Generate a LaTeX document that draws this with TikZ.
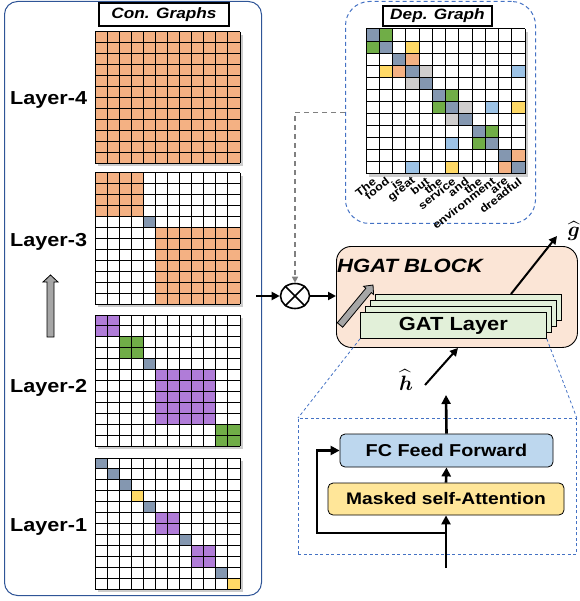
\documentclass[tikz,border=0pt]{standalone}
\usepackage{amsmath}
\usepackage{fontspec}
\setmainfont{Liberation Sans}[FakeStretch=1.15]
\usetikzlibrary{calc,shadows,arrows.meta,shapes.geometric}
\definecolor{cOrange}{HTML}{F4B183}
\definecolor{cSlate}{HTML}{8497B0}
\definecolor{cPurple}{HTML}{B07CD8}
\definecolor{cGreen}{HTML}{70AD47}
\definecolor{cYellow}{HTML}{FFD966}
\definecolor{cLBlue}{HTML}{9DC3E6}
\definecolor{cLGray}{HTML}{D0CECE}
\definecolor{cPeach}{HTML}{FBE5D6}
\definecolor{cMint}{HTML}{E2F0D9}
\definecolor{cFC}{HTML}{BDD7EE}
\definecolor{cMask}{HTML}{FFE699}
\definecolor{cPanel}{HTML}{2F5597}
\definecolor{cDash}{HTML}{4472C4}
\newcommand\cellgrid[4]{%
  \begin{scope}[shift={(#1.north west)}, x=#2pt, y=-#3pt]
    #4
    \foreach \i in {0,...,12}{\draw[cellline] (\i,0) -- (\i,12); \draw[cellline] (0,\i) -- (12,\i);}
  \end{scope}}
\newcommand\cellat[3]{\fill[#1] (#3,#2) rectangle ++(1,1);}
\begin{document}
\begin{tikzpicture}[x=1pt,y=-1pt,
  panel/.style={draw=cPanel, line width=1pt, rounded corners=13pt, inner sep=0, anchor=north west},
  dpanel/.style={draw=cDash, dash pattern=on 4pt off 3pt, line width=1pt, rounded corners=24pt, inner sep=0, anchor=north west},
  titlebox/.style={draw=black, fill=white, line width=1.1pt, inner sep=0, font=\bfseries\itshape\fontsize{15}{17}\selectfont},
  layerlbl/.style={font=\bfseries\fontsize{18.8}{20}\selectfont, anchor=west, inner sep=0},
  gridframe/.style={fill=white, drop shadow={shadow xshift=2.5pt, shadow yshift=-2.5pt, opacity=0.4}, inner sep=0, anchor=north west},
  cellline/.style={draw=black, line width=1pt},
  word/.style={font=\bfseries\fontsize{11}{12}\selectfont, inner sep=0, anchor=east, rotate=38},
  arr/.style={line width=2pt, -{Triangle[length=8pt,width=8pt]}},
  thickarr/.style={line width=2.6pt, -{Triangle[length=9pt,width=9pt]}},
  grayarrow/.style={fill=black!35, draw=black, line width=0.8pt},
  gat/.style={draw=black, fill=cMint, line width=0.8pt, minimum width=186pt, minimum height=26pt, inner sep=0, anchor=north west},
  blk/.style={draw=black, rounded corners=5pt, line width=0.8pt, inner sep=0},
  bluedash/.style={draw=cDash, dash pattern=on 3pt off 2.5pt, line width=0.8pt},
  hatlbl/.style={inner sep=0, font=\mathversion{bold}\fontsize{20}{22}\selectfont}
]
\useasboundingbox (0,0) rectangle (579,601);

% ---------- left panel ----------
\node[panel, minimum width=257pt, minimum height=594pt] (conpanel) at (4,1) {};
\node[titlebox, minimum width=130pt, minimum height=23pt] (contitle) at (164,14.5) {Con. Graphs};

\node[gridframe, fill=cOrange, minimum width=145pt, minimum height=131pt] (L4) at (95,32) {};
\cellgrid{L4}{12.083}{10.917}{}
\node[gridframe, minimum width=145pt, minimum height=131pt] (L3) at (95,173) {};
\cellgrid{L3}{12.083}{10.917}{%
  \fill[cOrange] (0,0) rectangle (4,4);
  \fill[cSlate] (4,4) rectangle (5,5);
  \fill[cOrange] (5,5) rectangle (12,12);}
\node[gridframe, minimum width=145pt, minimum height=131pt] (L2) at (95,315) {};
\cellgrid{L2}{12.083}{10.917}{%
  \fill[cPurple] (0,0) rectangle (2,2);
  \fill[cGreen] (2,2) rectangle (4,4);
  \fill[cSlate] (4,4) rectangle (5,5);
  \fill[cPurple] (5,5) rectangle (10,10);
  \fill[cGreen] (10,10) rectangle (12,12);}
\node[gridframe, minimum width=145pt, minimum height=131pt] (L1) at (95,458) {};
\cellgrid{L1}{12.083}{10.917}{%
  \fill[cSlate] (0,0) rectangle (1,1);
  \fill[cSlate] (1,1) rectangle (2,2);
  \fill[cSlate] (2,2) rectangle (3,3);
  \fill[cYellow] (3,3) rectangle (4,4);
  \fill[cSlate] (4,4) rectangle (5,5);
  \fill[cPurple] (5,5) rectangle (7,7);
  \fill[cSlate] (7,7) rectangle (8,8);
  \fill[cPurple] (8,8) rectangle (10,10);
  \fill[cSlate] (10,10) rectangle (11,11);
  \fill[cYellow] (11,11) rectangle (12,12);}

\node[layerlbl] (t4) at (10,100) {Layer-4};
\node[layerlbl] (t3) at (10,242) {Layer-3};
\node[layerlbl] (t2) at (10,388) {Layer-2};
\node[layerlbl] (t1) at (10,527) {Layer-1};

\draw[grayarrow] (47,337) -- (47,282) -- (43,282) -- (50.5,275) -- (58,282) -- (54,282) -- (54,337) -- cycle;

% ---------- dependency graph ----------
\node[dpanel, minimum width=190pt, minimum height=222pt] (deppanel) at (345,1) {};
\node[titlebox, minimum width=109pt, minimum height=20pt] (deptitle) at (437.5,16) {Dep. Graph};
\node[gridframe, minimum width=159pt, minimum height=145pt] (DG) at (366,29) {};
\cellgrid{DG}{13.25}{12.083}{%
  \foreach \k in {0,...,11}{\cellat{cSlate}{\k}{\k}}
  \cellat{cGreen}{0}{1}\cellat{cGreen}{1}{0}\cellat{cGreen}{5}{6}\cellat{cGreen}{6}{5}\cellat{cGreen}{8}{9}\cellat{cGreen}{9}{8}
  \cellat{cYellow}{1}{3}\cellat{cYellow}{3}{1}\cellat{cYellow}{6}{11}\cellat{cYellow}{11}{6}
  \cellat{cOrange}{2}{3}\cellat{cOrange}{3}{2}\cellat{cOrange}{10}{11}\cellat{cOrange}{11}{10}
  \cellat{cLGray}{3}{4}\cellat{cLGray}{4}{3}\cellat{cLGray}{6}{7}\cellat{cLGray}{7}{6}
  \cellat{cLBlue}{3}{11}\cellat{cLBlue}{11}{3}\cellat{cLBlue}{6}{9}\cellat{cLBlue}{9}{6}}
\foreach \w [count=\n from 0] in {The,food,is,great,but,the,service,and,the,environment,are,dreadful}{
  \node[word] (w\n) at (366+13.25*\n+8.6,180) {\w};}

% ---------- fusion ----------
\node[draw=black, line width=1.6pt, ellipse, minimum width=29pt, minimum height=25pt, inner sep=0] (otimes) at (295,296) {};
\draw[line width=1.6pt] (otimes.135) -- (otimes.-45);
\draw[line width=1.6pt] (otimes.45) -- (otimes.-135);
\draw[draw=black!50, line width=1.4pt, dash pattern=on 5pt off 4pt, -{Triangle[length=6pt,width=6pt]}] (deppanel.west) -| (otimes.north);
\draw[arr] ($(conpanel.east|-otimes)+(-6,0)$) -- (otimes.west);

% ---------- HGAT block ----------
\node[draw=black, fill=cPeach, line width=0.9pt, rounded corners=15pt, minimum width=241pt, minimum height=101pt, inner sep=0, anchor=north west] (hgat) at (336,246) {};
\draw[arr] (otimes.east) -- (otimes -| hgat.west);
\node[anchor=west, inner sep=0, font=\bfseries\itshape\fontsize{19.2}{21}\selectfont] (hgattitle) at (337,266) {HGAT BLOCK};
\node[gat] (gat4) at (375,294) {};
\node[gat] (gat3) at (370,300) {};
\node[gat] (gat2) at (365,306) {};
\node[gat, font=\bfseries\fontsize{19}{21}\selectfont] (gat1) at (360,312) {GAT Layer};
\draw[grayarrow] (337.3,322.8) -- (365.9,288.2) -- (363.6,286.3) -- (373,285) -- (373.6,294.5) -- (371.3,292.6) -- (342.7,327.2) -- cycle;

\coordinate (gout) at (557,236);
\draw[arr] ($(gat4.north west)+(136,0)$) -- (gout);
\node[hatlbl] (glbl) at (574,231) {$\widehat{g}$};
\coordinate (hin) at (425,385);
\coordinate (hx) at (458,400);
\draw[arr] (hin) -- (hx |- hgat.south);
\node[hatlbl] (hlbl) at (406,380) {$\widehat{h}$};

% ---------- encoder box ----------
\node[bluedash, minimum width=278pt, minimum height=136pt, inner sep=0, anchor=north west] (enc) at (298,418) {};
\draw[bluedash] (gat1.south west) -- (enc.north west);
\draw[bluedash] (gat1.south east) -- (enc.north east);
\node[blk, fill=cFC, minimum width=213pt, minimum height=33pt, font=\bfseries\fontsize{17.2}{19}\selectfont] (fc) at (446.5,450.5) {FC Feed Forward};
\node[blk, fill=cMask, minimum width=236pt, minimum height=32pt, font=\bfseries\fontsize{16.7}{18}\selectfont] (mask) at (446,499) {Masked self-Attention};
\coordinate (inp) at (446,568);
\coordinate (hout) at (446,395);
\coordinate (br) at (446,533);
\coordinate (brl) at (317,533);
\draw[thickarr] (inp) -- (mask.south);
\draw[thickarr] (mask.north) -- (fc.south);
\draw[thickarr] (fc.north) -- (hout);
\draw[thickarr] (br) -- (brl) |- (fc.west);
\end{tikzpicture}
\end{document}
